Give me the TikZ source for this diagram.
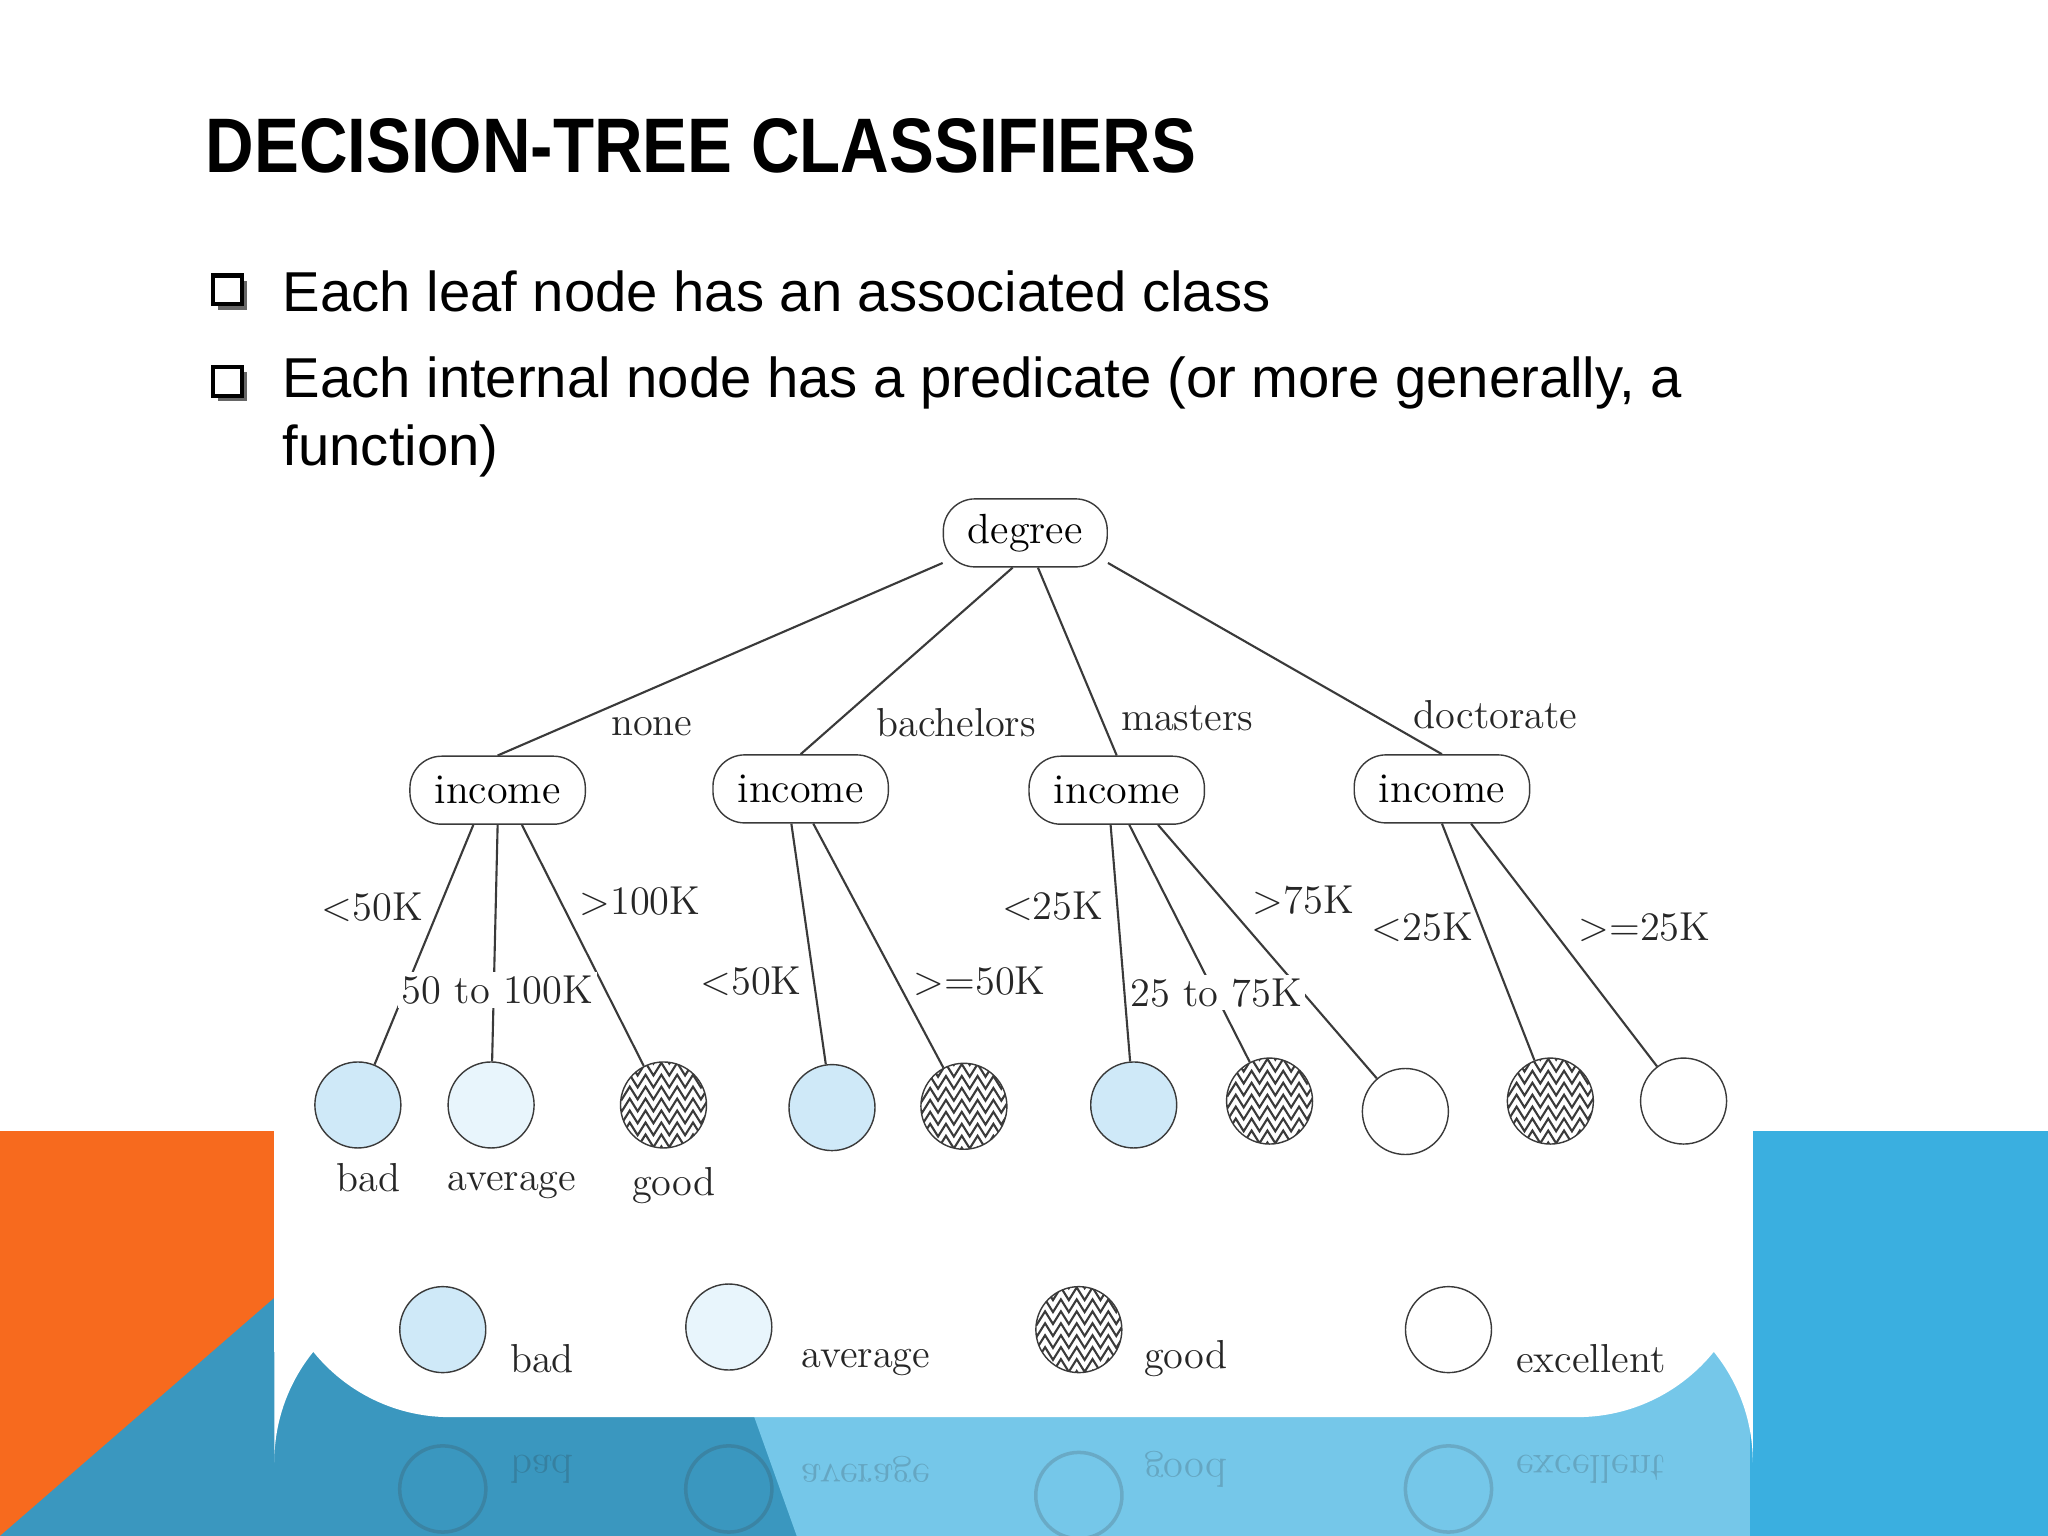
\documentclass[tikz,border=0pt]{standalone}
\usepackage{fontspec}
\newfontfamily\sans{Liberation Sans}
\usetikzlibrary{decorations.pathmorphing}
\definecolor{lb}{HTML}{CFE9F8}
\definecolor{vlb}{HTML}{E8F5FC}
\definecolor{org}{HTML}{F76A1E}
\definecolor{sky}{HTML}{3AAFE0}
\definecolor{teal2}{HTML}{3A97BF}
\definecolor{ln}{HTML}{3A3A3A}
\begin{document}
\begin{tikzpicture}[x=0.013061cm,y=-0.013061cm,
  box/.style={draw=ln,rounded corners=9pt,minimum height=0.68cm,inner xsep=7pt,inner ysep=4pt,font=\fontsize{12}{14}\selectfont,fill=white},
  lbl/.style={font=\fontsize{11.5}{13}\selectfont,text=black!85},
  leaf/.style={circle,draw=ln,minimum size=0.86cm,inner sep=0pt},
  hatch/.style={leaf,fill=white,path picture={
    \foreach \k in {-5,...,5}
      \draw[ln,line width=0.6pt,decorate,decoration={zigzag,segment length=4.5pt,amplitude=1.8pt}]
      ([yshift=\k*3.4pt,xshift=-3pt]path picture bounding box.west) -- ([yshift=\k*3.4pt,xshift=3pt]path picture bounding box.east);}},
  ed/.style={draw=ln,line width=0.6pt}]
\useasboundingbox (0,0) rectangle (1568,1176);
\fill[white] (0,0) rectangle (1568,1176);
% background shapes
\fill[org] (0,866) rectangle (220,1176);
\fill[teal2] (0,1176) -- (220,985) -- (220,1176) -- cycle;
\fill[teal2] (210,980) rectangle (1340,1176);
\fill[sky!70!white] (540,980) -- (1340,980) -- (1340,1176) -- (610,1176) -- cycle;
\fill[sky] (1340,866) rectangle (1568,1176);
\fill[white] (210,780) rectangle (1342,1035);
\fill[white,rounded corners=50] (210,985) rectangle (1342,1085);
% reflection
\begin{scope}[opacity=0.2]
 \draw[ln,line width=1pt] (339,1140) circle[radius=33];
 \draw[ln,line width=1pt] (558,1140) circle[radius=33];
 \draw[ln,line width=1pt] (826,1145) circle[radius=33];
 \draw[ln,line width=1pt] (1109,1140) circle[radius=33];
 \node[lbl,yscale=-1] (rb) at (415,1125) {bad};
 \node[lbl,yscale=-1] (ra) at (663,1125) {average};
 \node[lbl,yscale=-1] (rg) at (908,1125) {good};
 \node[lbl,yscale=-1] (re) at (1218,1125) {excellent};
\end{scope}
% title and bullets
\node[anchor=west,inner sep=0pt,xscale=0.87,font=\sans\bfseries\fontsize{22}{26}\selectfont] (title) at (157,112) {DECISION-TREE CLASSIFIERS};
\foreach \yy in {223,293}{
  \fill[black!60] (167,\yy-8) rectangle (189,\yy+14);
  \draw[black,line width=1.2pt,fill=white] (163,\yy-12) rectangle (185,\yy+10);
}
\node[anchor=west,inner sep=0pt,font=\sans\fontsize{16}{20}\selectfont] (t1) at (216,223) {Each leaf node has an associated class};
\node[anchor=west,inner sep=0pt,font=\sans\fontsize{16}{20}\selectfont] (t2) at (216,293) {Each internal node has a predicate (or more generally, a};
\node[anchor=west,inner sep=0pt,font=\sans\fontsize{16}{20}\selectfont] (t3) at (216,345) {function)};
% tree
\node[box] (deg) at (785,408) {degree};
\node[box] (i1) at (381,605) {income};
\node[box] (i2) at (613,604) {income};
\node[box] (i3) at (855,605) {income};
\node[box] (i4) at (1104,604) {income};
\node[leaf,fill=lb] (l1) at (274,846) {};
\node[leaf,fill=vlb] (l2) at (376,846) {};
\node[hatch] (l3) at (508,846) {};
\node[leaf,fill=lb] (l4) at (637,848) {};
\node[hatch] (l5) at (738,847) {};
\node[leaf,fill=lb] (l6) at (868,846) {};
\node[hatch] (l7) at (972,843) {};
\node[leaf,fill=white] (l8) at (1076,851) {};
\node[hatch] (l9) at (1187,843) {};
\node[leaf,fill=white] (l10) at (1289,843) {};
\draw[ed] (deg.200) -- (i1.north);
\draw[ed] (deg.250) -- (i2.north);
\draw[ed] (deg.290) -- (i3.north);
\draw[ed] (deg.340) -- (i4.north);
\draw[ed] (i1.235) -- (l1);
\draw[ed] (i1.south) -- (l2);
\draw[ed] (i1.305) -- (l3);
\draw[ed] (i2.255) -- (l4);
\draw[ed] (i2.290) -- (l5);
\draw[ed] (i3.260) -- (l6);
\draw[ed] (i3.290) -- (l7);
\draw[ed] (i3.320) -- (l8);
\draw[ed] (i4.270) -- (l9);
\draw[ed] (i4.310) -- (l10);
\node[lbl] (e1) at (499,556) {none};
\node[lbl] (e2) at (732,553) {bachelors};
\node[lbl] (e3) at (909,550) {masters};
\node[lbl] (e4) at (1145,547) {doctorate};
\node[lbl] (e5) at (285,695) {<50K};
\node[lbl,fill=white,inner sep=1pt] (e6) at (381,758) {50 to 100K};
\node[lbl] (e7) at (490,690) {>100K};
\node[lbl] (e8) at (575,751) {<50K};
\node[lbl] (e9) at (750,751) {>=50K};
\node[lbl] (e10) at (806,694) {<25K};
\node[lbl,fill=white,inner sep=1pt] (e11) at (931,760) {25 to 75K};
\node[lbl] (e12) at (998,689) {>75K};
\node[lbl] (e13) at (1089,710) {<25K};
\node[lbl] (e14) at (1259,710) {>=25K};
\node[lbl] (n1) at (282,902) {bad};
\node[lbl] (n2) at (392,908) {average};
\node[lbl] (n3) at (516,908) {good};
% legend
\node[leaf,fill=lb] (g1) at (339,1018) {};
\node[leaf,fill=vlb] (g2) at (558,1016) {};
\node[hatch] (g3) at (826,1018) {};
\node[leaf,fill=white] (g4) at (1109,1018) {};
\node[lbl] (gl1) at (415,1040) {bad};
\node[lbl] (gl2) at (663,1043) {average};
\node[lbl] (gl3) at (908,1040) {good};
\node[lbl] (gl4) at (1218,1040) {excellent};
\end{tikzpicture}
\end{document}
